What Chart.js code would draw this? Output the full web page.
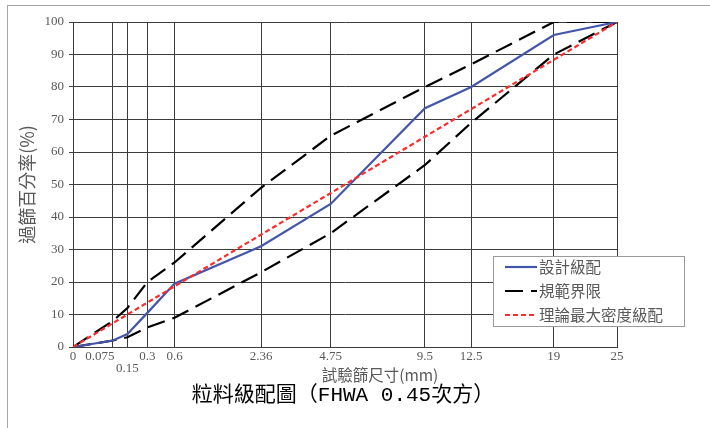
<!DOCTYPE html>
<html>
<head>
<meta charset="utf-8">
<script src="https://cdn.jsdelivr.net/npm/chart.js@4.4.1/dist/chart.umd.min.js"></script>
<style>
html, body { margin: 0; padding: 0; background: #fff; }
#wrap { position: relative; width: 710px; height: 428px; overflow: hidden; }
#frame { position: absolute; left: 7px; top: 5px; width: 720px; height: 440px;
         border-left: 1px solid #a6a6a6; border-top: 1px solid #a6a6a6; pointer-events: none; }
</style>
</head>
<body>
<div id="wrap">
  <canvas id="chart" width="710" height="428"></canvas>
  <div id="frame"></div>
</div>
<script>
// Sieve sizes (mm) and their axis labels
const sieveSizes = [0, 0.075, 0.15, 0.3, 0.6, 2.36, 4.75, 9.5, 12.5, 19, 25];
const sieveLabels = ['0', '0.075        ', ['', '0.15'], '0.3', '0.6', '2.36', '4.75', '9.5', '12.5', '19', '25'];

// Percent passing
const designPassing = [0, 2, 4, 10.5, 19.5, 31, 44, 73.5, 80, 96, 100];
const upperLimit = [0, 8, 12, 20, 26, 49, 65, 80, 87, 100, 100];
const lowerLimit = [0, 2, 3, 6, 9, 23, 35, 56, 69, 90, 100];
const maxDensitySizes = [0, 25];
const maxDensityPassing = [0, 100];

const chartTitle = '粒料級配圖（FHWA 0.45次方）';
const xTitle = '試驗篩尺寸(mm)';
const yTitle = '過篩百分率(%)';

const POWER = 0.45;
const serif = '"Liberation Serif", "Times New Roman", serif';
const cjk = '"Noto Sans CJK TC", "Noto Sans", sans-serif';
const gridColor = '#3c3c3c';
const textColor = '#595959';

// x position on the 0.45 power scale
function toX(size) {
    return Math.pow(size, POWER);
}

function toPoints(sizes, values) {
    return sizes.map((s, i) => ({ x: toX(s), y: values[i] }));
}

// Legend drawn as a framed box over the lower right of the plot
const legendBox = {
    id: 'legendBox',
    afterDraw(chart) {
        const ctx = chart.ctx;
        const bx = 493, by = 256, bw = 191, bh = 70;
        ctx.save();
        ctx.fillStyle = '#fff';
        ctx.fillRect(bx, by, bw, bh);
        ctx.strokeStyle = '#9a9a9a';
        ctx.lineWidth = 1;
        ctx.strokeRect(bx + 0.5, by + 0.5, bw, bh);

        const items = chart.data.datasets.filter(ds => !ds.hideInLegend);
        items.forEach((ds, i) => {
            const y = by + 11 + i * 24;
            ctx.beginPath();
            ctx.setLineDash(ds.borderDash || []);
            ctx.strokeStyle = ds.borderColor;
            ctx.lineWidth = ds.borderWidth;
            ctx.moveTo(bx + 12, y);
            ctx.lineTo(bx + 44, y);
            ctx.stroke();
            ctx.setLineDash([]);
            ctx.fillStyle = textColor;
            ctx.font = '15.5px ' + cjk;
            ctx.textBaseline = 'middle';
            ctx.textAlign = 'left';
            ctx.fillText(ds.label, bx + 46, y);
        });
        ctx.restore();
    }
};

// Axis title under the ticks and the chart title at the bottom
const bottomTitles = {
    id: 'bottomTitles',
    afterDraw(chart) {
        const ctx = chart.ctx;
        ctx.save();
        ctx.textAlign = 'center';
        ctx.textBaseline = 'middle';
        ctx.fillStyle = textColor;
        ctx.font = '15.5px ' + cjk;
        ctx.fillText(xTitle, 380, 375);
        ctx.fillStyle = '#000';
        ctx.font = '21px "Liberation Mono", ' + cjk;
        ctx.fillText(chartTitle, 343, 395);
        ctx.restore();
    }
};

const ctx = document.getElementById('chart').getContext('2d');
const chart = new Chart(ctx, {
    type: 'line',
    data: {
        datasets: [
            {
                label: '設計級配',
                data: toPoints(sieveSizes, designPassing),
                borderColor: '#4456aa',
                borderWidth: 2.2,
                pointRadius: 0,
                order: 1
            },
            {
                label: '規範界限',
                data: toPoints(sieveSizes, upperLimit),
                borderColor: '#000',
                borderWidth: 2.2,
                borderDash: [18, 8],
                pointRadius: 0,
                order: 2
            },
            {
                label: '規範界限',
                data: toPoints(sieveSizes, lowerLimit),
                borderColor: '#000',
                borderWidth: 2.2,
                borderDash: [18, 8],
                pointRadius: 0,
                hideInLegend: true,
                order: 2
            },
            {
                label: '理論最大密度級配',
                data: toPoints(maxDensitySizes, maxDensityPassing),
                borderColor: '#ff2a2a',
                borderWidth: 2.2,
                borderDash: [5, 3],
                pointRadius: 0,
                order: 0
            }
        ]
    },
    options: {
        responsive: false,
        animation: false,
        layout: {
            padding: { left: 0, right: 93, top: 22, bottom: 46 }
        },
        plugins: {
            legend: { display: false },
            tooltip: { enabled: false }
        },
        scales: {
            x: {
                type: 'linear',
                min: 0,
                max: toX(25),
                afterBuildTicks(scale) {
                    scale.ticks = sieveSizes.map(s => ({ value: toX(s) }));
                },
                afterFit(scale) {
                    scale.height = 35;
                },
                ticks: {
                    autoSkip: false,
                    maxRotation: 0,
                    padding: 4,
                    color: textColor,
                    font: { family: serif, size: 13, lineHeight: 0.9 },
                    callback: (value, index) => sieveLabels[index]
                },
                grid: { color: gridColor, drawTicks: false },
                border: { color: gridColor }
            },
            y: {
                min: 0,
                max: 100,
                afterFit(scale) {
                    scale.width = 73;
                },
                ticks: {
                    stepSize: 10,
                    padding: 5,
                    color: textColor,
                    font: { family: serif, size: 13 }
                },
                grid: { color: gridColor, tickLength: 4 },
                border: { color: gridColor },
                title: {
                    display: true,
                    text: yTitle,
                    color: textColor,
                    font: { family: cjk, size: 18, lineHeight: 1 },
                    padding: { top: 18, bottom: 0 }
                }
            }
        }
    },
    plugins: [legendBox, bottomTitles]
});
</script>
</body>
</html>
